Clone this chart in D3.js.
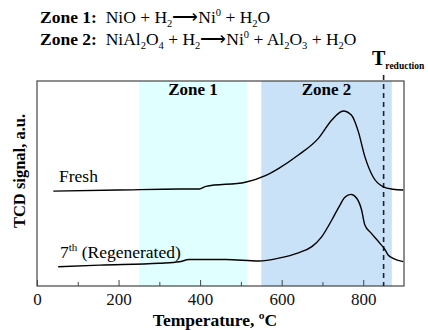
<!DOCTYPE html>
<html>
<head>
<meta charset="utf-8">
<script src="https://cdn.jsdelivr.net/npm/d3@7"></script>
<style>
  body { margin: 0; background: #fff; }
</style>
</head>
<body>
<svg id="chart" width="428" height="330"></svg>
<script>
// temperature (°C) vs TCD signal (a.u., arbitrary scale 0..100)
const freshT = [40, 200, 350, 398, 414, 511, 560, 593, 641, 690, 723, 751, 771, 788, 804, 824, 849, 873, 898];
const freshS = [46.3, 46.8, 47.3, 47.3, 48.6, 50.6, 53.8, 57.4, 63.9, 72.0, 81.0, 85.4, 83.4, 75.3, 63.1, 53.3, 48.4, 47.2, 46.8];
const regenT = [52, 154, 300, 349, 373, 463, 544, 593, 641, 674, 698, 723, 743, 755, 770, 784, 796, 804, 820, 841, 853, 861, 873, 898];
const regenS = [9.4, 10.2, 11.1, 11.8, 12.9, 12.9, 12.2, 13.6, 16.2, 19.2, 24.0, 32.2, 39.5, 43.3, 44.7, 42.8, 37.1, 29.8, 25.7, 20.8, 17.9, 15.1, 13.5, 11.9];
const zones = [{name: "Zone 1", from: 250, to: 515, color: "#e0ffff"},
               {name: "Zone 2", from: 550, to: 870, color: "#c9e2f8"}];
const tReduction = 850;
const xTicks = [0, 200, 400, 600, 800];
const xMinor = [100, 300, 500, 700];

const FONT = "Liberation Serif";
const svg = d3.select("#chart");
const m = {left: 37, right: 24, top: 81, bottom: 44};
const W = 428, H = 330;
const x = d3.scaleLinear().domain([0, 900]).range([m.left, W - m.right]);
const y = d3.scaleLinear().domain([0, 100]).range([H - m.bottom, m.top]);

// zone bands
svg.selectAll("rect.zone").data(zones).enter().append("rect")
  .attr("x", d => x(d.from)).attr("width", d => x(d.to) - x(d.from))
  .attr("y", y(100)).attr("height", y(0) - y(100))
  .attr("fill", d => d.color);

svg.selectAll("text.zone").data(zones).enter().append("text")
  .attr("x", d => (x(d.from) + x(d.to)) / 2).attr("y", 95)
  .attr("text-anchor", "middle").attr("font-weight", "bold").attr("font-size", 17)
  .text(d => d.name);

// frame
svg.append("rect").attr("x", x(0)).attr("y", y(100))
  .attr("width", x(900) - x(0)).attr("height", y(0) - y(100))
  .attr("fill", "none").attr("stroke", "#444").attr("stroke-width", 1.2);

// x axis ticks (inward) and labels
const xAxis = d3.axisBottom(x).tickValues(xTicks).tickSize(-6).tickPadding(7).tickFormat(d3.format("d"));
const gx = svg.append("g").attr("transform", `translate(0,${y(0)})`).call(xAxis);
gx.select(".domain").remove();
gx.selectAll("line").attr("stroke", "#444");
gx.selectAll("text").attr("font-size", 17).attr("fill", "#111");
const gxm = svg.append("g").attr("transform", `translate(0,${y(0)})`)
  .call(d3.axisBottom(x).tickValues(xMinor).tickSize(-4).tickFormat(""));
gxm.select(".domain").remove();
gxm.selectAll("line").attr("stroke", "#444");

// T reduction line
svg.append("line").attr("x1", x(tReduction)).attr("x2", x(tReduction))
  .attr("y1", y(100) - 6).attr("y2", y(0))
  .attr("stroke", "#222").attr("stroke-width", 1.6).attr("stroke-dasharray", "5,4");

// curves
const line = d3.line().x(d => x(d[0])).y(d => y(d[1])).curve(d3.curveMonotoneX);
[[freshT, freshS], [regenT, regenS]].forEach(([t, s]) => {
  svg.append("path").datum(d3.zip(t, s)).attr("d", line)
    .attr("fill", "none").attr("stroke", "#000").attr("stroke-width", 1.4);
});

// curve labels
svg.append("text").attr("x", 59).attr("y", 182).attr("font-size", 17.5).text("Fresh");
const reg = svg.append("text").attr("x", 60).attr("y", 258).attr("font-size", 17.5);
reg.append("tspan").text("7");
reg.append("tspan").attr("font-size", 11).attr("dy", -7).text("th");
reg.append("tspan").attr("dy", 7).text(" (Regenerated)");

// axis titles
svg.append("text").attr("x", 215).attr("y", 325.5)
  .attr("text-anchor", "middle").attr("font-weight", "bold").attr("font-size", 17.5)
  .text("Temperature, \u00BAC");
svg.append("text").attr("transform", "translate(25,171) rotate(-90)")
  .attr("text-anchor", "middle").attr("font-weight", "bold").attr("font-size", 16.5)
  .text("TCD signal, a.u.");

// reaction equations
function eq(yPos, label, parts) {
  const t = svg.append("text").attr("x", 40).attr("y", yPos).attr("font-size", 17.5);
  t.append("tspan").attr("font-weight", "bold").text(label);
  parts.forEach(p => {
    const sp = t.append("tspan").text(p[0]);
    if (p[1] === "sub") sp.attr("font-size", 10.5).attr("dy", 3.5);
    if (p[1] === "sup") sp.attr("font-size", 10.5).attr("dy", -7);
    if (p[1] === "back") sp.attr("dy", p[2]);
  });
}
eq(23, "Zone 1:", [["\u00A0 NiO + H"], ["2", "sub"], ["\u27F6Ni", "back", -3.5], ["0", "sup"], [" + H", "back", 7], ["2", "sub"], ["O", "back", -3.5]]);
eq(45, "Zone 2:", [["\u00A0 NiAl"], ["2", "sub"], ["O", "back", -3.5], ["4", "sub"], [" + H", "back", -3.5], ["2", "sub"], ["\u27F6Ni", "back", -3.5], ["0", "sup"], [" + Al", "back", 7], ["2", "sub"], ["O", "back", -3.5], ["3", "sub"], [" + H", "back", -3.5], ["2", "sub"], ["O", "back", -3.5]]);

const tr = svg.append("text").attr("x", 372).attr("y", 65).attr("font-weight", "bold").attr("font-size", 20);
tr.append("tspan").text("T");
tr.append("tspan").attr("font-size", 9.5).attr("dy", 4).text("reduction");

// serif everywhere, as in the original figure
svg.selectAll("text").attr("font-family", FONT);
</script>
</body>
</html>
